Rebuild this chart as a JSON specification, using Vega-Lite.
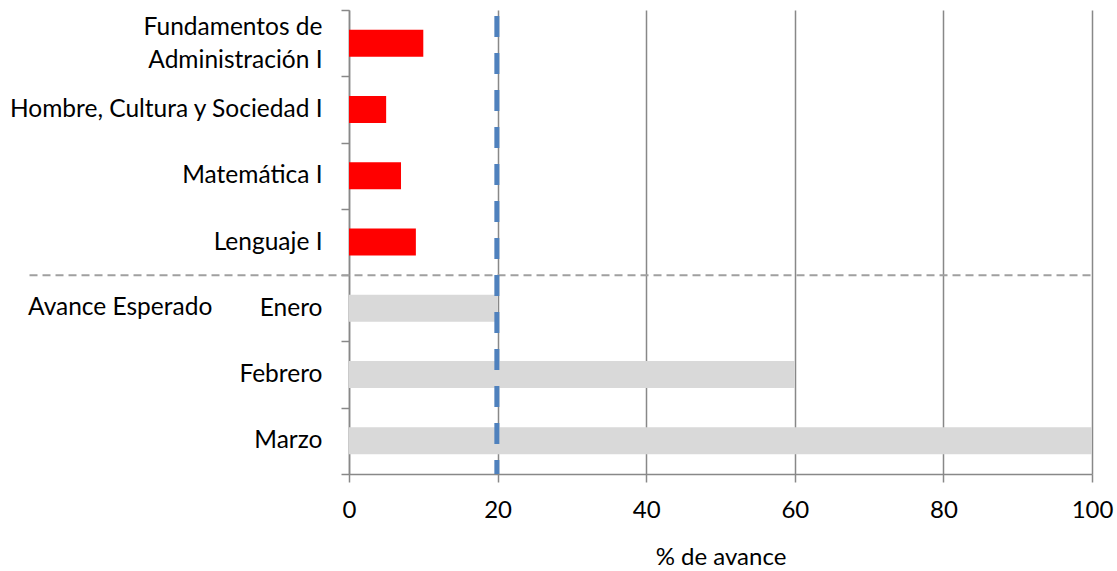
{
  "$schema": "https://vega.github.io/schema/vega-lite/v6.json",
  "width": 743,
  "height": 464,
  "autosize": "none",
  "padding": {"left": 349, "top": 10, "right": 25, "bottom": 97},
  "background": "white",
  "config": {"view": {"stroke": null}, "font": "Lato"},
  "datasets": {
    "bars": [
      {"cat": "Fundamentos de Administración I", "value": 10, "grupo": "actual"},
      {"cat": "Hombre, Cultura y Sociedad I", "value": 5, "grupo": "actual"},
      {"cat": "Matemática I", "value": 7, "grupo": "actual"},
      {"cat": "Lenguaje I", "value": 9, "grupo": "actual"},
      {"cat": "Enero", "value": 20, "grupo": "esperado"},
      {"cat": "Febrero", "value": 60, "grupo": "esperado"},
      {"cat": "Marzo", "value": 100, "grupo": "esperado"}
    ]
  },
  "layer": [
    {
      "data": {"name": "bars"},
      "mark": {"type": "bar", "height": 27},
      "encoding": {
        "y": {
          "field": "cat", "type": "nominal",
          "scale": {
            "domain": ["Fundamentos de Administración I", "Hombre, Cultura y Sociedad I", "Matemática I", "Lenguaje I", "Enero", "Febrero", "Marzo"],
            "paddingInner": 0, "paddingOuter": 0
          },
          "axis": {
            "title": null,
            "tickBand": "extent",
            "domainColor": "#888888", "domainWidth": 1.5,
            "tickColor": "#888888", "tickWidth": 1.5, "tickSize": 8,
            "labelFont": "Lato", "labelFontSize": 24.5, "labelColor": "#000000",
            "labelPadding": 19, "labelLineHeight": 33, "labelLimit": 400,
            "labelOffset": {"condition": {"test": "datum.value == 'Fundamentos de Administración I'", "value": -16}, "value": 0},
            "labelExpr": "datum.label == 'Fundamentos de Administración I' ? ['Fundamentos de', 'Administración I'] : datum.label"
          }
        },
        "x": {
          "field": "value", "type": "quantitative",
          "scale": {"domain": [0, 100], "nice": false},
          "axis": {
            "title": "% de avance",
            "values": [0, 20, 40, 60, 80, 100],
            "labelFlush": false,
            "grid": true, "gridColor": "#888888", "gridWidth": 1.5,
            "domainColor": "#888888", "domainWidth": 1.5,
            "tickColor": "#888888", "tickWidth": 1.5, "tickSize": 8,
            "labelFont": "Lato", "labelFontSize": 24, "labelColor": "#000000",
            "labelPadding": 16,
            "titleFont": "Lato", "titleFontSize": 24, "titleFontWeight": "normal",
            "titleColor": "#000000", "titlePadding": 23
          }
        },
        "color": {
          "field": "grupo", "type": "nominal", "legend": null,
          "scale": {"domain": ["actual", "esperado"], "range": ["#FF0000", "#D9D9D9"]}
        }
      }
    },
    {
      "data": {"values": [{"cat": "Enero", "x1": -43, "x2": 100}]},
      "mark": {"type": "rule", "color": "#A0A0A0", "strokeWidth": 2, "strokeDash": [8, 5]},
      "encoding": {
        "y": {"field": "cat", "type": "nominal", "bandPosition": 0},
        "x": {"field": "x1", "type": "quantitative"},
        "x2": {"field": "x2"}
      }
    },
    {
      "data": {"values": [{"cat": "Enero", "x": -43.2, "label": "Avance Esperado"}]},
      "mark": {"type": "text", "align": "left", "baseline": "middle", "fontSize": 24.5, "font": "Lato", "color": "#000000"},
      "encoding": {
        "y": {"field": "cat", "type": "nominal"},
        "x": {"field": "x", "type": "quantitative"},
        "text": {"field": "label"}
      }
    },
    {
      "data": {"values": [{"v": 19.9}]},
      "mark": {"type": "rule", "color": "#4F81BD", "strokeWidth": 5, "strokeDash": [21, 16], "strokeDashOffset": -6},
      "encoding": {
        "x": {"field": "v", "type": "quantitative"}
      }
    }
  ]
}
